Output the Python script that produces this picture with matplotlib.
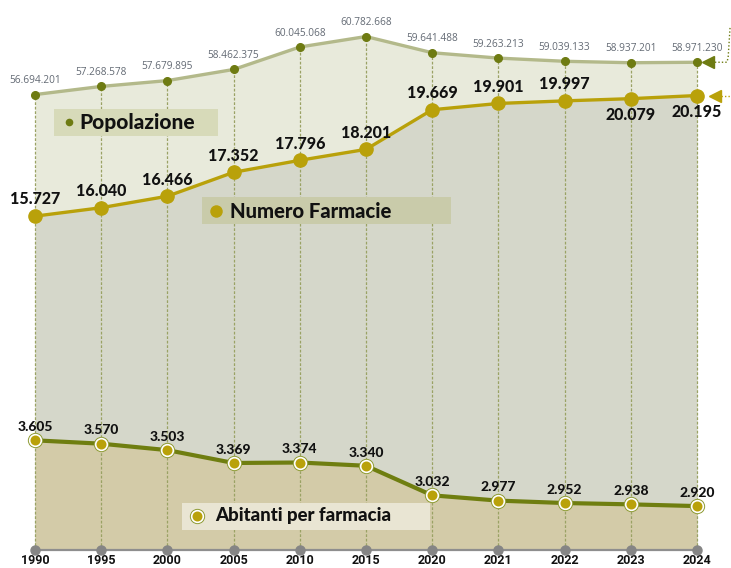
import matplotlib
matplotlib.use("Agg")
import matplotlib.pyplot as plt
from matplotlib.patches import Rectangle
from matplotlib.lines import Line2D

years = ['1990', '1995', '2000', '2005', '2010', '2015', '2020', '2021', '2022', '2023', '2024']
popolazione = [56694201, 57268578, 57679895, 58462375, 60045068, 60782668,
               59641488, 59263213, 59039133, 58937201, 58971230]
farmacie = [15727, 16040, 16466, 17352, 17796, 18201, 19669, 19901, 19997, 20079, 20195]
abitanti = [3605, 3570, 3503, 3369, 3374, 3340, 3032, 2977, 2952, 2938, 2920]

legend_pop = 'Popolazione'
legend_farm = 'Numero Farmacie'
legend_abit = 'Abitanti per farmacia'

W, H = 731, 568
fig = plt.figure(figsize=(W / 100, H / 100), dpi=100)
fig.patch.set_facecolor('white')

HEAVY = ['Lato', 'DejaVu Sans']
THIN = ['Open Sans', 'DejaVu Sans']
TICK = ['Roboto', 'DejaVu Sans']

C_POP_FILL = '#e8eadb'
C_FARM_FILL = '#d5d7ca'
C_ABIT_FILL = '#d3cba8'
C_POP_LINE = '#b3b98a'
C_POP_MK = '#6e7b12'
C_FARM = '#b9a10a'
C_ABIT_LINE = '#6f7e10'
C_GRID = '#9aa264'

ax = fig.add_axes([0, 18 / H, 1, 550 / H])
ax2 = ax.twinx()
ax3 = ax.twinx()
x = list(range(len(years)))
ax.set_xlim(-35 / 66.2, (W - 35) / 66.2)
ax.set_ylim(24.623e6, 63.355e6)
ax2.set_ylim(3363, 23733)
ax3.set_ylim(2462.6, 8191.9)
for a in (ax2, ax3):
    a.set_visible(False)
ax.patch.set_visible(False)
for s in ax.spines.values():
    s.set_visible(False)
ax.set_yticks([])

t2 = ax2.transData
t3 = ax3.transData

ybot1 = ax.get_ylim()[0]
ybot2 = ax2.get_ylim()[0]
ybot3 = ax3.get_ylim()[0]

# fills
ax.fill_between(x, popolazione, ybot1, color=C_POP_FILL, lw=0, zorder=1)
ax.fill_between(x, farmacie, ybot2, color=C_FARM_FILL, lw=0, zorder=2, transform=t2)
ax.fill_between(x, abitanti, ybot3, color=C_ABIT_FILL, lw=0, zorder=3, transform=t3)

# vertical dashed guides
ax.vlines(x, ybot1, popolazione, colors=C_GRID, lw=0.9, linestyles=(0, (2.2, 1.4)), zorder=4)

# lines
ax.plot(x, popolazione, color=C_POP_LINE, lw=2.4, zorder=5, solid_capstyle='butt')
ax.plot(x, popolazione, 'o', color=C_POP_MK, ms=5.5, zorder=6)
ax.plot(x, farmacie, color=C_FARM, lw=2.4, zorder=5, transform=t2)
ax.plot(x, farmacie, 'o', color=C_FARM, ms=9.5, zorder=6, transform=t2)
ax.plot(x, abitanti, color=C_ABIT_LINE, lw=3.0, zorder=5, transform=t3)
ax.plot(x, abitanti, 'o', color='#8d9a32', ms=11, zorder=6, mew=0, transform=t3)
ax.plot(x, abitanti, 'o', color='white', ms=9.6, zorder=6, mew=0, transform=t3)
ax.plot(x, abitanti, 'o', color='#b9a10a', ms=7.2, zorder=6, mew=0, transform=t3)

# bottom axis
ax.plot(x, [ybot1] * len(x), color='#8e8e8e', lw=1.6, marker='o', ms=6.5,
        mfc='#858585', mec='#858585', zorder=7, clip_on=False)
ax.set_xticks(x)
ax.set_xticklabels(years)
ax.tick_params(axis='x', length=0, pad=3)
for lab in ax.get_xticklabels():
    lab.set_fontfamily(TICK)
    lab.set_fontweight('bold')
    lab.set_fontsize(9)
    lab.set_color('#111111')

def fmt(v):
    return f"{v:,}".replace(',', '.')

for i, v in enumerate(popolazione):
    ax.annotate(fmt(v), (i, v), xytext=(0, 10), textcoords='offset points',
                ha='center', va='center', fontsize=7.3, family=THIN, color='#636a74',
                zorder=8)

below = {9, 10}
for i, v in enumerate(farmacie):
    off = -12 if i in below else 12
    ax.annotate(fmt(v), (i, v), xycoords=t2, xytext=(0, off), textcoords='offset points',
                ha='center', va='center', fontsize=11.5, family=HEAVY, weight='black',
                color='#111111', zorder=8)

for i, v in enumerate(abitanti):
    ax.annotate(fmt(v), (i, v), xycoords=t3, xytext=(0, 9.5), textcoords='offset points',
                ha='center', va='center', fontsize=10, family=HEAVY, weight='black',
                color='#111111', zorder=8)

# right side arrows (anchored to last points)
last = len(x) - 1
ax.plot([last + 0.17], [popolazione[-1]], marker='<', color=C_POP_MK, ms=9, zorder=8, clip_on=False)
ax.plot([last + 0.27, last + 0.45, last + 0.47, last + 0.5],
        [popolazione[-1]] * 2 + [popolazione[-1] + 0.3e6, popolazione[-1] + 2.5e6],
        color=C_POP_MK, lw=1, ls=(0, (1, 1.5)), zorder=8, clip_on=False)
ax.plot([last + 0.27], [farmacie[-1]], marker='<', color=C_FARM, ms=9, zorder=8, transform=t2, clip_on=False)
ax.plot([last + 0.37, last + 0.6], [farmacie[-1]] * 2, color=C_FARM, lw=1,
        ls=(0, (1, 1.5)), zorder=8, transform=t2, clip_on=False)

# legend boxes (figure pixel coords)
def box(x0, y0, x1, y1, color):
    fig.add_artist(Rectangle((x0 / W, 1 - y1 / H), (x1 - x0) / W, (y1 - y0) / H,
                             transform=fig.transFigure, color=color, lw=0, zorder=2))

def dot(px, py, **kw):
    fig.add_artist(Line2D([px / W], [1 - py / H], transform=fig.transFigure,
                          marker='o', lw=0, zorder=3, **kw))

def label(px, py, s, size):
    fig.text(px / W, 1 - py / H, s, ha='left', va='center', fontsize=size,
             family=HEAVY, weight='black', color='#111111', zorder=4)

box(54, 109, 218, 136, '#d7dab9')
dot(69, 122, ms=5.5, color=C_POP_MK, mew=0)
label(79, 122, legend_pop, 15)

box(202, 197, 451, 224, '#c9cbaa')
dot(216, 211, ms=9, color=C_FARM, mew=0)
label(230, 211, legend_farm, 14.6)

box(182, 503, 430, 530, '#e9e5d3')
dot(197, 516, ms=11, color='#8d9a32', mew=0)
dot(197, 516, ms=9.6, color='white', mew=0)
dot(197, 516, ms=7.2, color='#b9a10a', mew=0)
label(215, 516, legend_abit, 13.4)

fig.savefig('out.png', dpi=100, facecolor='white')
